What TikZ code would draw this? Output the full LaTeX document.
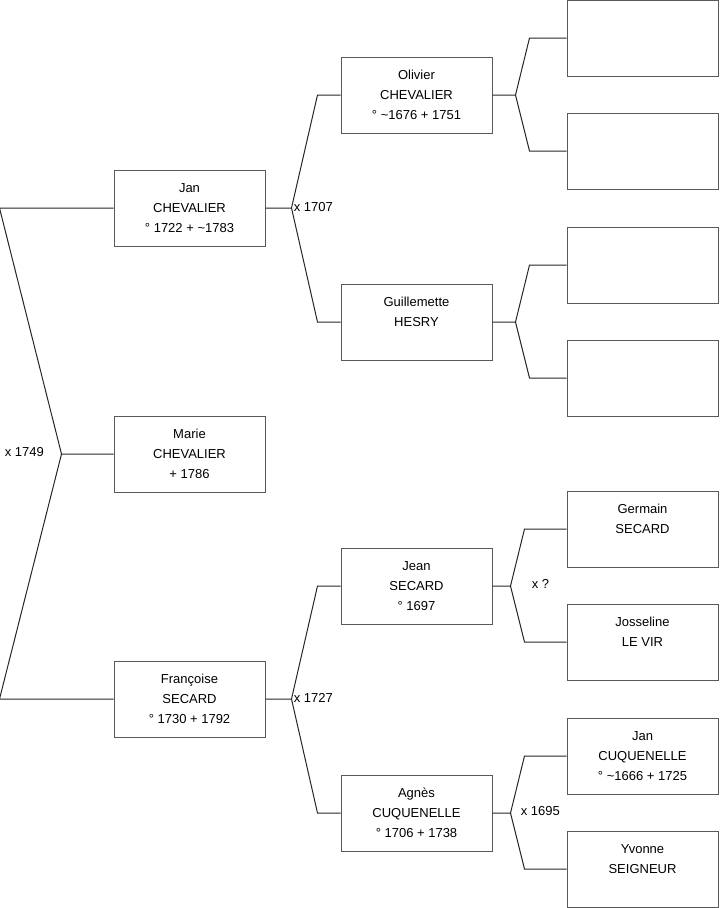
\documentclass[tikz,border=0pt]{standalone}
\usepackage{fontspec}
\setmainfont{Liberation Sans}
\usetikzlibrary{calc}

\begin{document}
\begin{tikzpicture}[x=0.75pt,y=-0.75pt,font=\fontsize{9.75}{15}\selectfont]
        \tikzset{
            person/.style={
                draw=black!65,
                fill=white,
                line width=0.75pt,
                minimum width=113.25pt,
                minimum height=57pt,
                inner sep=0pt,
                align=center
            },
            link/.style={
                draw=black!85,
                line width=0.75pt
            },
            union/.style={inner sep=0pt,anchor=west}
        }

        \useasboundingbox (0,0) rectangle (719,908);

        % root and parents
        \node[person] (marie) at (189.5,454) {Marie\\CHEVALIER\\+ 1786};
        \node[person] (jan) at (189.5,208) {Jan\\CHEVALIER\\° 1722 + \textasciitilde1783};
        \node[person] (francoise) at (189.5,699) {Françoise\\SECARD\\° 1730 + 1792};

        % grandparents
        \node[person] (olivier) at (416.5,95) {Olivier\\CHEVALIER\\° \textasciitilde1676 + 1751};
        \node[person] (guillemette) at (416.5,322) {Guillemette\\HESRY\\\mbox{}};
        \node[person] (jean) at (416.5,586) {Jean\\SECARD\\° 1697};
        \node[person] (agnes) at (416.5,813) {Agnès\\CUQUENELLE\\° 1706 + 1738};

        % great-grandparents
        \node[person] (ggpa) at (642.5,38) {};
        \node[person] (ggpb) at (642.5,151) {};
        \node[person] (ggpc) at (642.5,265) {};
        \node[person] (ggpd) at (642.5,378) {};
        \node[person] (germain) at (642.5,529) {Germain\\SECARD\\\mbox{}};
        \node[person] (josseline) at (642.5,642) {Josseline\\LE VIR\\\mbox{}};
        \node[person] (jancuq) at (642.5,756) {Jan\\CUQUENELLE\\° \textasciitilde1666 + 1725};
        \node[person] (yvonne) at (642.5,869) {Yvonne\\SEIGNEUR\\\mbox{}};

        % forks
        \coordinate (mariex) at ($(marie.west)+(-52,0)$);
        \coordinate (janx) at ($(jan.east)+(26,0)$);
        \coordinate (francoisex) at ($(francoise.east)+(26,0)$);
        \coordinate (olivierx) at ($(olivier.east)+(23,0)$);
        \coordinate (guillemettex) at ($(guillemette.east)+(23,0)$);
        \coordinate (jeanx) at ($(jean.east)+(18,0)$);
        \coordinate (agnesx) at ($(agnes.east)+(18,0)$);

        \draw[link] (marie.west) -- (mariex) -- ($(jan.west)+(-114,0)$) -- (jan.west);
        \draw[link] (mariex) -- ($(francoise.west)+(-114,0)$) -- (francoise.west);

        \draw[link] (jan.east) -- (janx) -- ($(olivier.west)+(-23,0)$) -- (olivier.west);
        \draw[link] (janx) -- ($(guillemette.west)+(-23,0)$) -- (guillemette.west);
        \draw[link] (francoise.east) -- (francoisex) -- ($(jean.west)+(-23,0)$) -- (jean.west);
        \draw[link] (francoisex) -- ($(agnes.west)+(-23,0)$) -- (agnes.west);

        \draw[link] (olivier.east) -- (olivierx) -- ($(ggpa.west)+(-37,0)$) -- (ggpa.west);
        \draw[link] (olivierx) -- ($(ggpb.west)+(-37,0)$) -- (ggpb.west);
        \draw[link] (guillemette.east) -- (guillemettex) -- ($(ggpc.west)+(-37,0)$) -- (ggpc.west);
        \draw[link] (guillemettex) -- ($(ggpd.west)+(-37,0)$) -- (ggpd.west);
        \draw[link] (jean.east) -- (jeanx) -- ($(germain.west)+(-42,0)$) -- (germain.west);
        \draw[link] (jeanx) -- ($(josseline.west)+(-42,0)$) -- (josseline.west);
        \draw[link] (agnes.east) -- (agnesx) -- ($(jancuq.west)+(-42,0)$) -- (jancuq.west);
        \draw[link] (agnesx) -- ($(yvonne.west)+(-42,0)$) -- (yvonne.west);

        % marriages
        \node[union] (m1749) at ($(mariex)+(-57,-2)$) {x 1749};
        \node[union] (m1707) at ($(janx)+(2,-1)$) {x 1707};
        \node[union] (m1727) at ($(francoisex)+(2,-1)$) {x 1727};
        \node[union] (mjean) at ($(jeanx)+(21,-2)$) {x ?};
        \node[union] (m1695) at ($(agnesx)+(10,-2)$) {x 1695};
    \end{tikzpicture}
\end{document}
